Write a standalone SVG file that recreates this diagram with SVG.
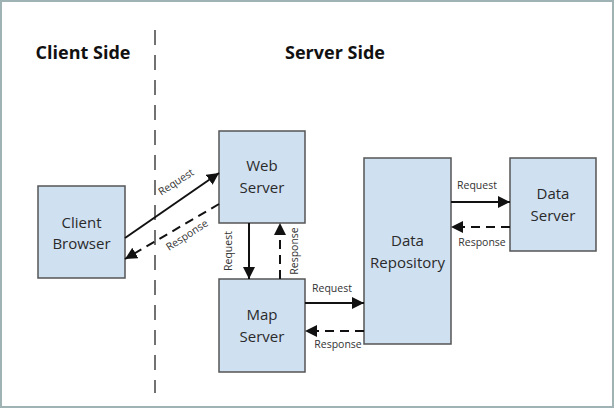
<svg xmlns="http://www.w3.org/2000/svg" width="616" height="411" viewBox="0 0 616 411">
<defs>
<marker id="ahb" viewBox="0 0 10 10" refX="10" refY="5" markerWidth="12" markerHeight="12" markerUnits="userSpaceOnUse" orient="auto">
<path d="M0,0 L10,5 L0,10 Z" fill="#111"/>
</marker>
</defs>
<style>
.node{fill:#cfe0f1;stroke:#555;stroke-width:1.5}
.nt{font-family:"Open Sans","Liberation Sans",sans-serif;font-size:15px;fill:#2a2a2a;text-anchor:middle}
.title{font-family:"Open Sans","Liberation Sans",sans-serif;font-size:18px;font-weight:bold;fill:#111;text-anchor:middle}
.lbl{font-family:"Open Sans","Liberation Sans",sans-serif;font-size:10.5px;fill:#333;text-anchor:middle}
.req{stroke:#111;stroke-width:2;fill:none;marker-end:url(#ahb)}
.res{stroke:#111;stroke-width:2;fill:none;stroke-dasharray:9,6;marker-end:url(#ahb)}
</style>
<rect x="1" y="1" width="612" height="406" fill="#fff" stroke="#9fb3b5" stroke-width="2"/>
<line x1="155" y1="30" x2="155" y2="393" stroke="#444" stroke-width="1.5" stroke-dasharray="15,10"/>
<text class="title" x="83" y="59">Client Side</text>
<text class="title" x="335" y="59">Server Side</text>
<g id="client-browser"><rect class="node" x="38" y="186" width="87" height="92"/><text class="nt" x="81.5" y="228">Client</text><text class="nt" x="81.5" y="249">Browser</text></g>
<g id="web-server"><rect class="node" x="219" y="131" width="86" height="92"/><text class="nt" x="262" y="171">Web</text><text class="nt" x="262" y="193">Server</text></g>
<g id="map-server"><rect class="node" x="219" y="279" width="86" height="93"/><text class="nt" x="262" y="320">Map</text><text class="nt" x="262" y="342">Server</text></g>
<g id="data-repository"><rect class="node" x="364" y="158" width="87" height="186"/><text class="nt" x="407.5" y="246">Data</text><text class="nt" x="407.5" y="268">Repository</text></g>
<g id="data-server"><rect class="node" x="510" y="158" width="86" height="93"/><text class="nt" x="553" y="199">Data</text><text class="nt" x="553" y="221">Server</text></g>
<g id="connectors">
<line class="req" x1="125" y1="238" x2="219" y2="173"/>
<line class="res" x1="219" y1="204" x2="125" y2="259"/>
<line class="req" x1="249" y1="223" x2="249" y2="279"/>
<line class="res" x1="280" y1="279" x2="280" y2="223"/>
<line class="req" x1="305" y1="303" x2="364" y2="303"/>
<line class="res" x1="364" y1="331" x2="305" y2="331"/>
<line class="req" x1="451" y1="202" x2="510" y2="202"/>
<line class="res" x1="510" y1="227" x2="451" y2="227"/>
<text class="lbl" transform="translate(178,185) rotate(-33)">Request</text>
<text class="lbl" transform="translate(189,238) rotate(-33)">Response</text>
<text class="lbl" transform="translate(232,251) rotate(-90)">Request</text>
<text class="lbl" transform="translate(298,251) rotate(-90)">Response</text>
<text class="lbl" x="332" y="292">Request</text>
<text class="lbl" x="338" y="348">Response</text>
<text class="lbl" x="477" y="189">Request</text>
<text class="lbl" x="482" y="246">Response</text>
</g>
</svg>
